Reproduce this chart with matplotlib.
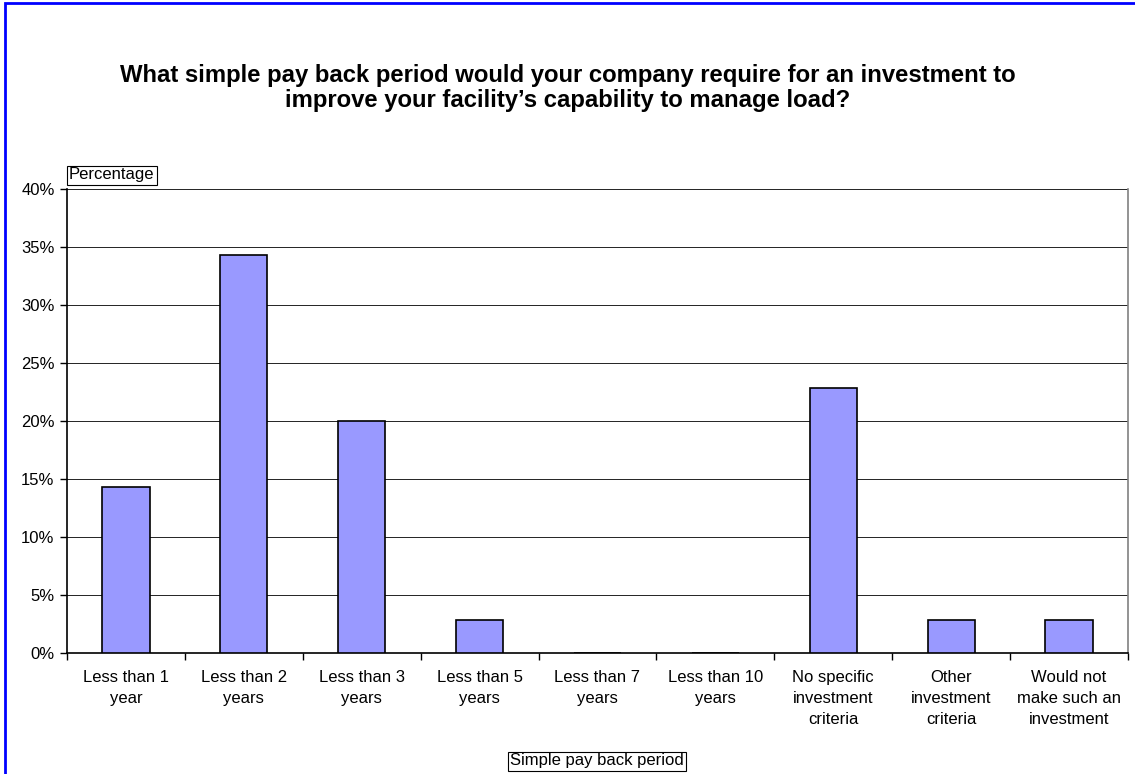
import matplotlib
matplotlib.use("Agg")
import matplotlib.pyplot as plt
from matplotlib.patches import Rectangle
import numpy as np

plt.rcParams['font.family'] = ['Liberation Sans', 'DejaVu Sans']

categories = [
    "Less than 1\nyear",
    "Less than 2\nyears",
    "Less than 3\nyears",
    "Less than 5\nyears",
    "Less than 7\nyears",
    "Less than 10\nyears",
    "No specific\ninvestment\ncriteria",
    "Other\ninvestment\ncriteria",
    "Would not\nmake such an\ninvestment",
]
# share of respondents (35 responses)
shares = [14.29, 34.29, 20.0, 2.86, 0.0, 0.0, 22.86, 2.86, 2.86]
y_ticks = [0, 5, 10, 15, 20, 25, 30, 35, 40]

W, H = 1135, 774
fig = plt.figure(figsize=(W / 100, H / 100), dpi=100)

# plot area in pixel coordinates
left, right, top, bottom = 67, 1128, 189, 653
ax = fig.add_axes([left / W, 1 - bottom / H, (right - left) / W, (bottom - top) / H])

x = np.arange(len(categories))
ax.bar(x, shares, width=0.4, color="#9999ff", edgecolor="black", linewidth=1.2, zorder=3)

ax.set_xlim(-0.5, len(categories) - 0.5)
ax.set_ylim(0, 40)
ax.set_yticks(y_ticks)
ax.set_yticklabels([f"{v}%" for v in y_ticks], fontsize=12)
ax.yaxis.grid(True, color="black", linewidth=0.6, zorder=0)

ax.set_xticks(x)
ax.set_xticklabels(categories, fontsize=12, linespacing=1.5)
ax.tick_params(axis="x", length=0, pad=12)
ax.set_xticks(np.arange(len(categories) + 1) - 0.5, minor=True)
ax.tick_params(axis="x", which="minor", length=5, width=1, direction="out")
ax.tick_params(axis="y", length=5, width=1, direction="out", pad=4)

for side in ["left", "bottom"]:
    ax.spines[side].set_color("black")
    ax.spines[side].set_linewidth(1.2)
ax.spines["top"].set_visible(False)
ax.spines["right"].set_color("#808080")
ax.spines["right"].set_linewidth(1.2)

fig.text(0.5, 1 - 88 / H,
         "What simple pay back period would your company require for an investment to\n"
         "improve your facility\u2019s capability to manage load?",
         ha="center", va="center", fontsize=17.2, fontweight="bold", linespacing=1.15)

box = dict(boxstyle="square,pad=0.12", facecolor="white", edgecolor="black", linewidth=0.8)
fig.text(69 / W, 1 - 175 / H, "Percentage", ha="left", va="center", fontsize=12, bbox=box)
fig.text(597 / W, 1 - 761 / H, "Simple pay back period", ha="center", va="center",
         fontsize=12, bbox=box)

# outer chart frame
fig.patches.append(Rectangle((5 / W, -0.05), 1.2, 1 - 3 / H + 0.05,
                             transform=fig.transFigure, fill=False,
                             edgecolor="#0000ff", linewidth=2))

fig.savefig("out.png", dpi=100, facecolor="white")
